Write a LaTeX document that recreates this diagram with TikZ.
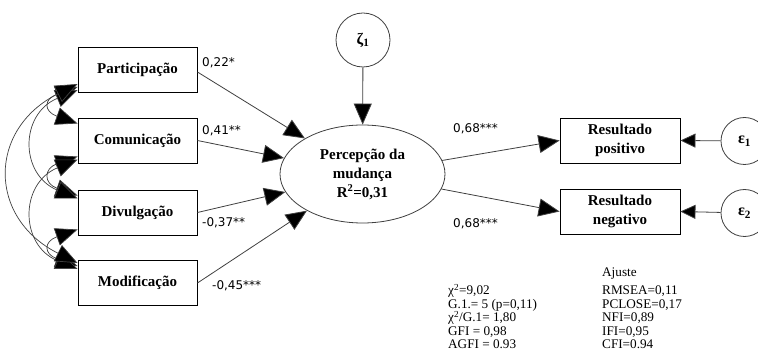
\documentclass[tikz,border=0pt]{standalone}
\usepackage{fontspec}
\setmainfont{Liberation Serif}
\newfontfamily\coeffont{DejaVu Sans}
\usetikzlibrary{arrows.meta,shapes.geometric,calc}
\begin{document}
\begin{tikzpicture}[x=1pt,y=-1pt,
  varbox/.style={draw=black,line width=0.9pt,minimum width=119pt,minimum height=45pt,inner sep=0pt,align=center,
    font=\fontsize{15}{19}\selectfont\bfseries},
  latent/.style={draw=black!75,line width=0.8pt,ellipse,minimum width=165pt,minimum height=98pt,inner sep=0pt,align=center,
    font=\fontsize{15}{19}\selectfont\bfseries},
  errc/.style={draw=black!75,line width=0.8pt,circle,inner sep=0pt,font=\fontsize{16}{16}\selectfont\bfseries},
  path/.style={draw=black!75,line width=0.8pt,-{Triangle[length=21pt,width=18pt,fill=black]}},
  epath/.style={draw=black!75,line width=0.8pt,-{Triangle[length=15pt,width=14pt,fill=black]}},
  cov/.style={draw=black!75,line width=0.7pt,{Triangle[length=22pt,width=18pt,fill=black]}-{Triangle[length=22pt,width=18pt,fill=black]}},
  coef/.style={anchor=base west,inner sep=0pt,font=\coeffont\fontsize{12}{12}\selectfont},
  fit/.style={anchor=base west,inner sep=0pt,font=\fontsize{13.2}{13.2}\selectfont}
]
\useasboundingbox (0,0) rectangle (758,363);
\fill[white] (0,0) rectangle (758,363);

% exogenous boxes
\node[varbox] (P) at (137.5,70) {Participação};
\node[varbox] (C) at (137.5,140.5) {Comunicação};
\node[varbox] (D) at (137.5,212.5) {Divulgação};
\node[varbox] (M) at (137.5,283) {Modificação};

% latent
\node[latent] (E) at (362.5,174) {Percepção da\\mudança\\R\textsuperscript{2}=0,31};
\node[errc,minimum size=54pt] (Z) at (363,40) {ζ\textsubscript{1}};

% outcomes
\node[varbox,minimum width=120pt] (Rp) at (620,140.5) {Resultado\\positivo};
\node[varbox,minimum width=120pt] (Rn) at (620,211.5) {Resultado\\negativo};
\node[errc,minimum size=47pt] (e1) at (744.5,141) {ε\textsubscript{1}};
\node[errc,minimum size=47pt] (e2) at (744.5,213) {ε\textsubscript{2}};

% structural paths
\coordinate (Ps) at ($(P.east)+(0,2)$);
\coordinate (Ms) at ($(M.east)+(0,0)$);
\draw[path] (Ps) -- (E);
\draw[path] (C.east) -- (E);
\draw[path] (D.east) -- (E);
\draw[path] (Ms) -- (E);
\draw[path] (Z) -- (E);
\draw[path] (E) -- (Rp.west);
\draw[path] (E) -- (Rn.west);
\draw[epath] (e1) -- (Rp.east);
\draw[epath] (e2) -- (Rn.east);

% covariances
\coordinate (p1) at ($(P.west)+(0,17)$);
\coordinate (p2) at ($(P.west)+(0,20)$);
\coordinate (p3) at ($(P.west)+(0,14)$);
\coordinate (c1) at ($(C.west)+(0,-17)$);
\coordinate (c2) at ($(C.west)+(0,16)$);
\coordinate (c3) at ($(C.west)+(0,19)$);
\coordinate (d1) at ($(D.west)+(0,-17)$);
\coordinate (d2) at ($(D.west)+(0,-14)$);
\coordinate (d3) at ($(D.west)+(0,17)$);
\coordinate (m1) at ($(M.west)+(0,-17)$);
\coordinate (m2) at ($(M.west)+(0,-14)$);
\coordinate (m3) at ($(M.west)+(0,-20)$);
\draw[cov] (p1) .. controls +(-34,12) and +(-34,-12) .. (c1);
\draw[cov] (c2) .. controls +(-34,12) and +(-34,-12) .. (d1);
\draw[cov] (d3) .. controls +(-34,12) and +(-34,-12) .. (m1);
\draw[cov] (p2) .. controls +(-58,24) and +(-58,-24) .. (d2);
\draw[cov] (c3) .. controls +(-58,24) and +(-58,-24) .. (m2);
\draw[cov] (p3) .. controls +(-90,45) and +(-90,-45) .. (m3);

% coefficients
\node[coef] (k1) at (202,67) {0,22*};
\node[coef] (k2) at (202,135) {0,41**};
\node[coef] (k3) at (202,227) {-0,37**};
\node[coef] (k4) at (212,290) {-0,45***};
\node[coef] (k5) at (453,133) {0,68***};
\node[coef] (k6) at (453,228) {0,68***};

% fit
\node[fit] (fa) at (602,277) {Ajuste};
\node[fit] (f1) at (448,295) {χ\textsuperscript{2}=9,02};
\node[fit] (f2) at (448,308.5) {G.1.= 5 (p=0,11)};
\node[fit] (f3) at (448,322) {χ\textsuperscript{2}/G.1= 1,80};
\node[fit] (f4) at (448,335.5) {GFI = 0,98};
\node[fit] (f5) at (448,349) {AGFI = 0.93};
\node[fit] (g1) at (602,295) {RMSEA=0,11};
\node[fit] (g2) at (602,308.5) {PCLOSE=0,17};
\node[fit] (g3) at (602,322) {NFI=0,89};
\node[fit] (g4) at (602,335.5) {IFI=0,95};
\node[fit] (g5) at (602,349) {CFI=0.94};
\end{tikzpicture}
\end{document}
